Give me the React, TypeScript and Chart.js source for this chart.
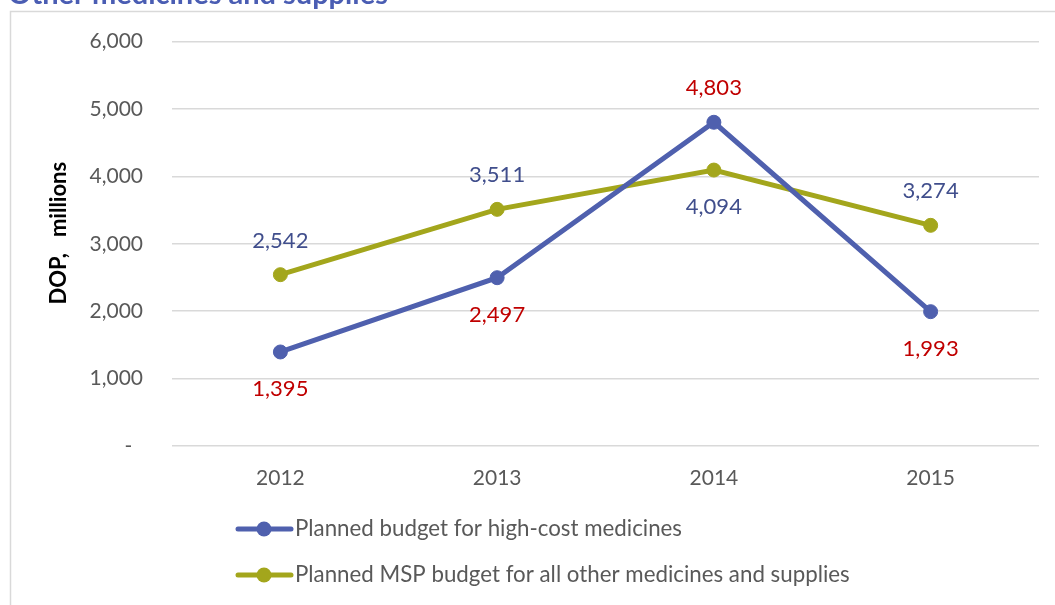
import React, { useEffect, useRef } from "react";
import { Chart, registerables } from "chart.js";

Chart.register(...registerables);

const categories = ["2012", "2013", "2014", "2015"];
const highCostValues = [1395, 2497, 4803, 1993];
const otherValues = [2542, 3511, 4094, 3274];
const seriesNames = [
  "Planned budget for high-cost medicines",
  "Planned MSP budget for all other medicines and supplies",
];
const highCostLabelSide = ["below", "below", "above", "below"];
const otherLabelSide = ["above", "above", "below", "above"];
const yTicks = [0, 1000, 2000, 3000, 4000, 5000, 6000];
const chartTitle = "Other medicines and supplies";
const yTitle = "    DOP,   millions";

const BLUE = "#4F60AE";
const GREEN = "#A3A61C";
const FONT = "Lato, 'Open Sans', sans-serif";

const fmt = (v: number) => v.toLocaleString("en-US");

const framePlugin = {
  id: "frame",
  beforeDraw(chart: any) {
    const ctx = chart.ctx;
    ctx.save();
    ctx.strokeStyle = "#D9D9D9";
    ctx.lineWidth = 1.5;
    ctx.beginPath();
    ctx.moveTo(10.5, chart.height);
    ctx.lineTo(10.5, 11.5);
    ctx.lineTo(chart.width, 11.5);
    ctx.stroke();
    ctx.fillStyle = "#4A5DB3";
    ctx.font = `bold 29px ${FONT}`;
    ctx.textBaseline = "alphabetic";
    ctx.textAlign = "left";
    ctx.fillText(chartTitle, 8, 4);
    ctx.restore();
  },
};

const labelPlugin = {
  id: "valueLabels",
  afterDatasetsDraw(chart: any) {
    const ctx = chart.ctx;
    ctx.save();
    ctx.font = `22px ${FONT}`;
    ctx.textAlign = "center";
    ctx.textBaseline = "middle";
    chart.data.datasets.forEach((ds: any, i: number) => {
      const meta = chart.getDatasetMeta(i);
      const sides = ds.labelSides as string[];
      meta.data.forEach((pt: any, j: number) => {
        const dy = sides[j] === "above" ? -34 : 37;
        ctx.fillStyle = ds.labelColor;
        ctx.fillText(fmt(ds.data[j]), pt.x, pt.y + dy);
      });
    });
    ctx.restore();
  },
};

const legendPlugin = {
  id: "customLegend",
  afterDraw(chart: any) {
    const ctx = chart.ctx;
    ctx.save();
    const rows = [529, 575];
    chart.data.datasets.forEach((ds: any, i: number) => {
      const y = rows[i];
      ctx.strokeStyle = ds.borderColor;
      ctx.lineWidth = 5;
      ctx.lineCap = "round";
      ctx.beginPath();
      ctx.moveTo(238, y);
      ctx.lineTo(291, y);
      ctx.stroke();
      ctx.fillStyle = ds.borderColor;
      ctx.beginPath();
      ctx.arc(264, y, 7.5, 0, Math.PI * 2);
      ctx.fill();
      ctx.fillStyle = "#595959";
      ctx.font = `22.3px ${FONT}`;
      ctx.textAlign = "left";
      ctx.textBaseline = "middle";
      ctx.fillText(ds.label, 295, y);
    });
    ctx.restore();
  },
};

export default function App() {
  const ref = useRef<HTMLCanvasElement | null>(null);
  useEffect(() => {
    document.body.style.margin = "0";
    const chart = new Chart(ref.current as HTMLCanvasElement, {
      type: "line",
      data: {
        labels: categories,
        datasets: [
          {
            label: seriesNames[0],
            data: highCostValues,
            borderColor: BLUE,
            backgroundColor: BLUE,
            pointBackgroundColor: BLUE,
            pointBorderColor: BLUE,
            borderWidth: 5,
            pointRadius: 7,
            pointBorderWidth: 1,
            tension: 0,
            labelSides: highCostLabelSide,
            labelColor: "#C00000",
          } as any,
          {
            label: seriesNames[1],
            data: otherValues,
            borderColor: GREEN,
            backgroundColor: GREEN,
            pointBackgroundColor: GREEN,
            pointBorderColor: GREEN,
            borderWidth: 5,
            pointRadius: 7,
            pointBorderWidth: 1,
            tension: 0,
            labelSides: otherLabelSide,
            labelColor: "#404E8C",
          } as any,
        ],
      },
      options: {
        animation: false,
        responsive: true,
        maintainAspectRatio: false,
        layout: { padding: { left: 10, top: 41, right: 16, bottom: 0 } },
        plugins: {
          legend: { display: false },
          tooltip: { enabled: false },
          title: { display: false },
        },
        scales: {
          x: {
            offset: true,
            grid: { display: false, drawTicks: false },
            border: { display: false },
            ticks: { color: "#595959", font: { family: FONT, size: 21 }, padding: 20 },
            afterFit: (s: any) => {
              s.height = 159;
            },
          },
          y: {
            min: 0,
            max: 6000,
            afterBuildTicks: (s: any) => {
              s.ticks = yTicks.map((v) => ({ value: v }));
            },
            grid: { color: "#D9D9D9", lineWidth: 1.5, drawTicks: false },
            border: { display: false },
            ticks: {
              color: "#595959",
              font: { family: FONT, size: 21 },
              padding: 29,
              callback: (v: any) => (Number(v) === 0 ? "-  " : fmt(Number(v))),
            },
            title: {
              display: true,
              text: yTitle,
              color: "#000000",
              font: { family: FONT, size: 22, weight: "bold" },
              padding: { top: 36, bottom: 0 },
            },
            afterFit: (s: any) => {
              s.width = 162;
            },
          },
        },
      },
      plugins: [framePlugin, labelPlugin, legendPlugin],
    });
    return () => chart.destroy();
  }, []);
  return (
    <div style={{ width: 1055, height: 605, position: "relative" }}>
      <canvas ref={ref} />
    </div>
  );
}
